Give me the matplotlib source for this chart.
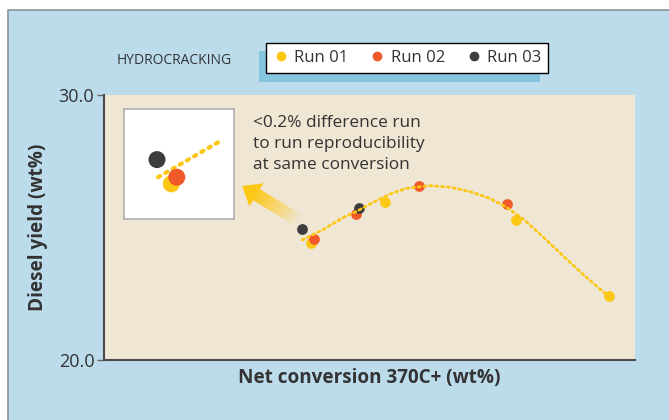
import numpy as np
import matplotlib.pyplot as plt
from matplotlib.patches import Rectangle, Polygon
from matplotlib.lines import Line2D

plt.rcParams['font.family'] = ['Open Sans', 'DejaVu Sans']

# Data
run01_x = [63.4, 71.8, 86.5, 97.1]
run01_y = [24.4, 25.95, 25.3, 22.4]
run02_x = [63.7, 68.5, 75.6, 85.5]
run02_y = [24.55, 25.5, 26.55, 25.9]
run03_x = [62.4, 68.8]
run03_y = [24.95, 25.75]

# dotted trend line
trend_x = [62.4, 64.8, 67.0, 68.5, 70.4, 72.3, 74.2, 76.8, 79.1, 81.4,
           83.6, 85.5, 87.4, 89.6, 91.9, 94.2, 96.6]
trend_y = [24.53, 24.93, 25.37, 25.60, 25.95, 26.26, 26.48, 26.58, 26.52, 26.35,
           26.10, 25.76, 25.31, 24.65, 23.92, 23.21, 22.52]

# close-up inset (magnified, arbitrary units)
inset_x = [0.43, 0.48, 0.30]
inset_y = [0.32, 0.38, 0.54]
inset_line_x = [0.31, 0.86]
inset_line_y = [0.38, 0.70]

yellow = '#fdc716'
red = '#f05a28'
dark = '#3d3d3d'
txt = '#333333'
blue_bg = '#bcdcec'
beige = '#efe6d3'

fig = plt.figure(figsize=(6.69, 4.2), dpi=100)
fig.patch.set_facecolor('white')
W, H = 669, 420

# light blue panel
fig.patches.append(Rectangle((8 / W, 0), 1, 1 - 10 / H, transform=fig.transFigure,
                             facecolor=blue_bg, edgecolor='none', zorder=-3))
fig.lines.append(Line2D([8 / W, 8 / W, 1], [0, 1 - 10 / H, 1 - 10 / H], transform=fig.transFigure,
                        color='#8a9399', lw=1.2, zorder=-2))

ax = fig.add_axes([104 / W, 60 / H, 531 / W, 265 / H])
ax.set_facecolor(beige)
ax.set_xlim(40, 100)
ax.set_ylim(20, 30)

ax.scatter(run01_x, run01_y, s=60, color=yellow, zorder=3, linewidths=0)
ax.scatter(run02_x, run02_y, s=60, color=red, zorder=4, linewidths=0)
ax.scatter(run03_x, run03_y, s=60, color=dark, zorder=5, linewidths=0)
ax.plot(trend_x, trend_y, color=yellow, lw=2, linestyle=(0, (0.8, 1.3)),
        dash_capstyle='round', zorder=6)

for s in ['top', 'right']:
    ax.spines[s].set_visible(False)
for s in ['left', 'bottom']:
    ax.spines[s].set_color('#4a4a4a')
    ax.spines[s].set_linewidth(1.5)
ax.set_xticks([])
ax.set_yticks([20, 30])
ax.set_yticklabels(['20.0', '30.0'])
ax.tick_params(axis='y', length=5, width=1, color='#666666', labelsize=13, labelcolor=txt, pad=2)
ax.set_xlabel('Net conversion 370C+ (wt%)', fontsize=13.6, fontweight='bold', color=txt, labelpad=6)
ax.set_ylabel('Diesel yield (wt%)', fontsize=13.6, fontweight='bold', color=txt, labelpad=8)

ax.text(0.2806, 0.815, '<0.2% difference run\nto run reproducibility\nat same conversion',
        transform=ax.transAxes, fontsize=12.4, color=txt, va='center', ha='left', linespacing=1.45)

# inset close-up
ins = fig.add_axes([124 / W, 201 / H, 110 / W, 110 / H])
ins.set_facecolor('white')
ins.set_xlim(0, 1)
ins.set_ylim(0, 1)
ins.set_xticks([])
ins.set_yticks([])
for s in ins.spines.values():
    s.set_color('#b0b0b0')
    s.set_linewidth(1.2)
ins.plot(inset_line_x, inset_line_y, color=yellow, lw=3, linestyle=(0, (0.6, 1.4)),
         dash_capstyle='round', zorder=1)
ins.scatter(inset_x, inset_y, s=150, color=[yellow, red, dark], zorder=2, linewidths=0)

# gradient arrow
tip = np.array([242.0, 420 - 186.0])
tail = np.array([298.0, 420 - 220.0])
d = (tip - tail) / np.linalg.norm(tip - tail)
nrm = np.array([-d[1], d[0]])
head_len, head_w, shaft_w = 17, 13.5, 6.5
base = tip - d * head_len
n = 25
for i in range(n):
    a0 = tail + (base - tail) * i / n
    a1 = tail + (base - tail) * (i + 1) / n
    pts = [a0 + nrm * shaft_w, a1 + nrm * shaft_w, a1 - nrm * shaft_w, a0 - nrm * shaft_w]
    fig.patches.append(Polygon([(p[0] / W, p[1] / H) for p in pts], transform=fig.transFigure,
                               facecolor=yellow, edgecolor='none', alpha=(i + 1) / n, zorder=5))
head = [tip, base + nrm * head_w, base - nrm * head_w]
fig.patches.append(Polygon([(p[0] / W, p[1] / H) for p in head], transform=fig.transFigure,
                           facecolor=yellow, edgecolor='none', zorder=5))

# legend with offset shadow
fig.patches.append(Rectangle((259 / W, (420 - 81.7) / H), 281 / W, 30.7 / H, transform=fig.transFigure,
                             facecolor='#86c5e0', edgecolor='none', zorder=-1))
handles = [Line2D([], [], marker='o', ls='none', color=c, markersize=6) for c in [yellow, red, dark]]
leg = fig.legend(handles, ['Run 01', 'Run 02', 'Run 03'], loc='center', ncol=3,
                 bbox_to_anchor=(407 / W, 1 - 58 / H), fontsize=12, frameon=True, fancybox=False,
                 framealpha=1, handletextpad=0.3, columnspacing=1.25, handlelength=1.0, borderpad=0.4)
leg.get_frame().set_edgecolor('black')
leg.get_frame().set_linewidth(1)
for t in leg.get_texts():
    t.set_color(txt)
leg.set_zorder(3)

fig.text(174 / W, 1 - 60 / H, 'HYDROCRACKING', fontsize=10, color=txt, ha='center', va='center')

fig.savefig('out.png', dpi=100)
